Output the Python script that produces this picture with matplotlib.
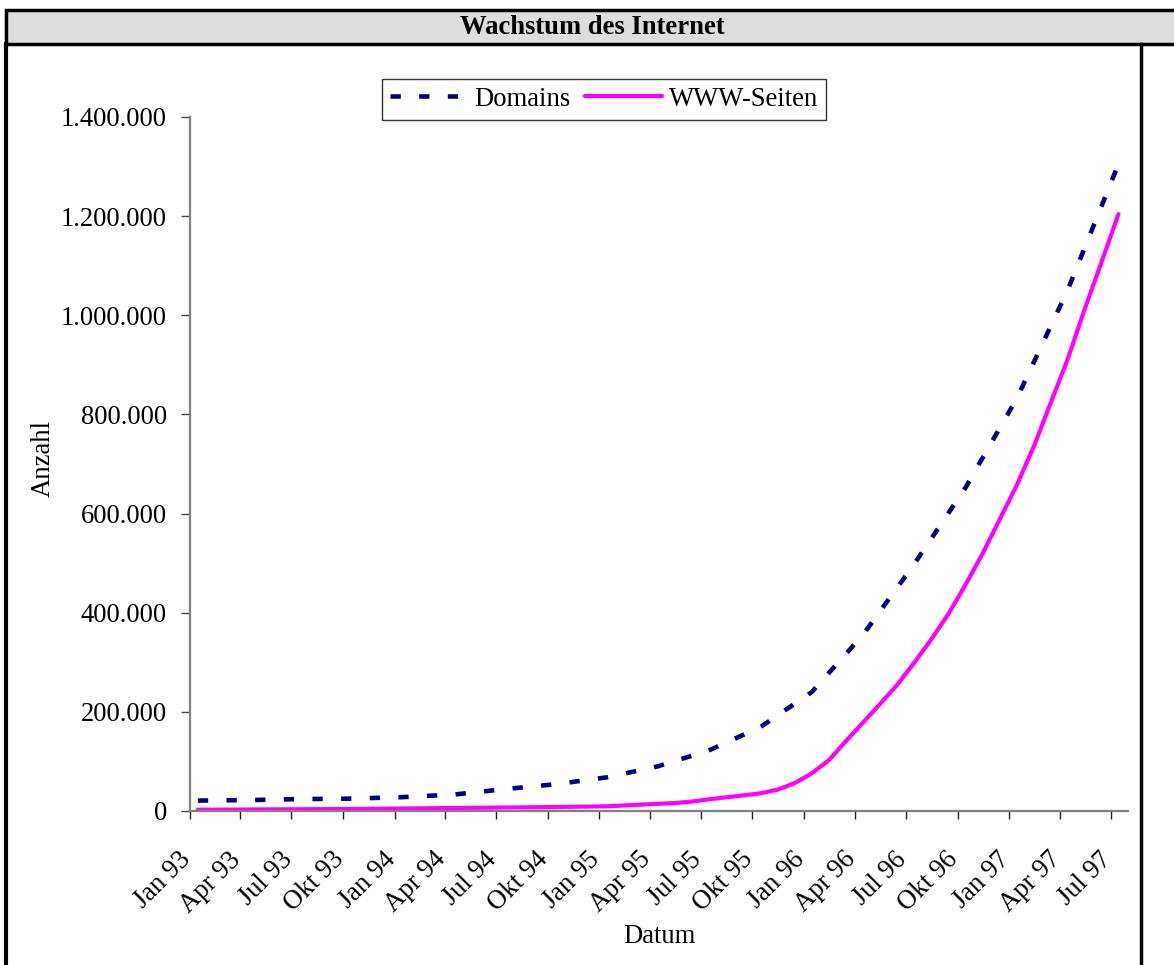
import numpy as np
import matplotlib
matplotlib.use("Agg")
import matplotlib.pyplot as plt
import matplotlib.transforms as mtransforms
from matplotlib.patches import Rectangle
from matplotlib.lines import Line2D

# ---------------- data ----------------
title = "Wachstum des Internet"
x_label = "Datum"
y_label = "Anzahl"
series_names = ["Domains", "WWW-Seiten"]

domain_dates = ["1993-01-15", "1993-04-15", "1993-07-15", "1993-10-15",
                "1994-01-15", "1994-04-15", "1994-07-15", "1994-10-15",
                "1995-01-15", "1995-04-15", "1995-07-15", "1995-10-15",
                "1996-01-15", "1996-04-15", "1996-07-15", "1996-10-15",
                "1997-01-15", "1997-04-15", "1997-07-15"]
domain_values = [21000, 22000, 24000, 25000,
                 28000, 33000, 44000, 54000,
                 68000, 90000, 122000, 169000,
                 240000, 355000, 497000, 652000,
                 833000, 1050000, 1305000]

www_dates = ["1993-01-15", "1993-04-15", "1993-07-15", "1993-10-15",
             "1994-01-15", "1994-04-15", "1994-07-15", "1994-10-15",
             "1995-01-15", "1995-04-15", "1995-05-15", "1995-06-15",
             "1995-07-15", "1995-08-15", "1995-09-15", "1995-10-15",
             "1995-11-15", "1995-12-15", "1996-01-15", "1996-02-15",
             "1996-03-15", "1996-04-15", "1996-05-15", "1996-06-15",
             "1996-07-15", "1996-08-15", "1996-09-15", "1996-10-15",
             "1996-11-15", "1996-12-15", "1997-01-15", "1997-02-15",
             "1997-03-15", "1997-04-15", "1997-05-15", "1997-06-15",
             "1997-07-15"]
www_values = [2500, 3000, 3500, 4000,
              5000, 6000, 7000, 8000,
              9500, 14500, 16000, 19000,
              23500, 27500, 31500, 35500,
              43000, 56000, 76000, 103000,
              140000, 178000, 215000, 254000,
              298000, 346000, 398000, 456000,
              520000, 588000, 658000, 738000,
              820000, 910000, 1010000, 1108000,
              1204000]

tick_dates = ["1993-01-01", "1993-04-01", "1993-07-01", "1993-10-01",
              "1994-01-01", "1994-04-01", "1994-07-01", "1994-10-01",
              "1995-01-01", "1995-04-01", "1995-07-01", "1995-10-01",
              "1996-01-01", "1996-04-01", "1996-07-01", "1996-10-01",
              "1997-01-01", "1997-04-01", "1997-07-01"]
tick_labels = ["Jan 93", "Apr 93", "Jul 93", "Okt 93",
               "Jan 94", "Apr 94", "Jul 94", "Okt 94",
               "Jan 95", "Apr 95", "Jul 95", "Okt 95",
               "Jan 96", "Apr 96", "Jul 96", "Okt 96",
               "Jan 97", "Apr 97", "Jul 97"]
x_range = ["1993-01-01", "1997-08-01"]
y_ticks = [0, 200000, 400000, 600000, 800000, 1000000, 1200000, 1400000]
y_tick_labels = ["0", "200.000", "400.000", "600.000", "800.000",
                 "1.000.000", "1.200.000", "1.400.000"]

# ---------------- style ----------------
plt.rcParams["font.family"] = ["Liberation Serif", "DejaVu Serif"]
FS = 19.2
W, H = 1174, 965
NAVY = "#000080"
MAGENTA = "#FF00FF"

fig = plt.figure(figsize=(W / 100, H / 100), dpi=100)
fig.patch.set_facecolor("white")

def fx(px):
    return px / W

def fy(py):
    return 1 - py / H

# frame like a table cell
fig.add_artist(Rectangle((fx(6), fy(44)), fx(1180) - fx(6), fy(10) - fy(44),
                         transform=fig.transFigure, facecolor="#DDDDDD",
                         edgecolor="black", linewidth=2.5, clip_on=False))
fig.add_artist(Line2D([fx(6), fx(6)], [fy(44), fy(970)], transform=fig.transFigure,
                      color="black", linewidth=3))
fig.add_artist(Line2D([fx(1141), fx(1141)], [fy(44), fy(970)], transform=fig.transFigure,
                      color="black", linewidth=2.5))
fig.text(fx(592), fy(34.5), title, ha="center", va="baseline",
         fontsize=FS, fontweight="bold")

ax = fig.add_axes([fx(190), fy(811), fx(1128) - fx(190), fy(117) - fy(811)])
ax.set_facecolor("none")

d_dates = np.array(domain_dates, dtype="datetime64[D]")
w_dates = np.array(www_dates, dtype="datetime64[D]")

l1, = ax.plot(d_dates, domain_values, color=NAVY, linewidth=3.3,
              dash_capstyle="butt", label=series_names[0])
l1.set_dashes([2.25, 4.0])
l2, = ax.plot(w_dates, www_values, color=MAGENTA, linewidth=3.0,
              solid_capstyle="round", solid_joinstyle="round", label=series_names[1])

ax.set_xlim(np.array(x_range, dtype="datetime64[D]"))
ax.set_ylim(0, 1400000)

ax.set_xticks(np.array(tick_dates, dtype="datetime64[D]"))
ax.set_xticklabels(tick_labels, rotation=45, ha="right", va="top",
                   rotation_mode="anchor", fontsize=FS)
ax.set_yticks(y_ticks)
ax.set_yticklabels(y_tick_labels, fontsize=FS)

for s in ["top", "right"]:
    ax.spines[s].set_visible(False)
for s in ["left", "bottom"]:
    ax.spines[s].set_color("#808080")
    ax.spines[s].set_linewidth(1.6)

ax.tick_params(axis="x", direction="out", length=6, width=1, color="#222222", pad=20)
ax.tick_params(axis="y", direction="out", length=6.5, width=1, color="#444444", pad=10)

offset = mtransforms.ScaledTranslation(-12 / 100, 0, fig.dpi_scale_trans)
for lab in ax.get_xticklabels():
    lab.set_transform(lab.get_transform() + offset)

fig.text(fx(659), fy(943), x_label, ha="center", va="baseline", fontsize=FS)
fig.text(fx(50), fy(458), y_label, rotation=90, rotation_mode="anchor",
         ha="center", va="baseline", fontsize=FS)

leg = ax.legend(handles=[l1, l2], loc="center", ncol=2,
                bbox_to_anchor=(fx(604), fy(99)), bbox_transform=fig.transFigure,
                fontsize=FS, frameon=True, fancybox=False, shadow=False,
                handlelength=2.9, handletextpad=0.25, columnspacing=0.55,
                borderpad=0.3, borderaxespad=0)
leg.get_frame().set_edgecolor("black")
leg.get_frame().set_linewidth(1.0)

fig.savefig("out.png", dpi=100, facecolor="white")
